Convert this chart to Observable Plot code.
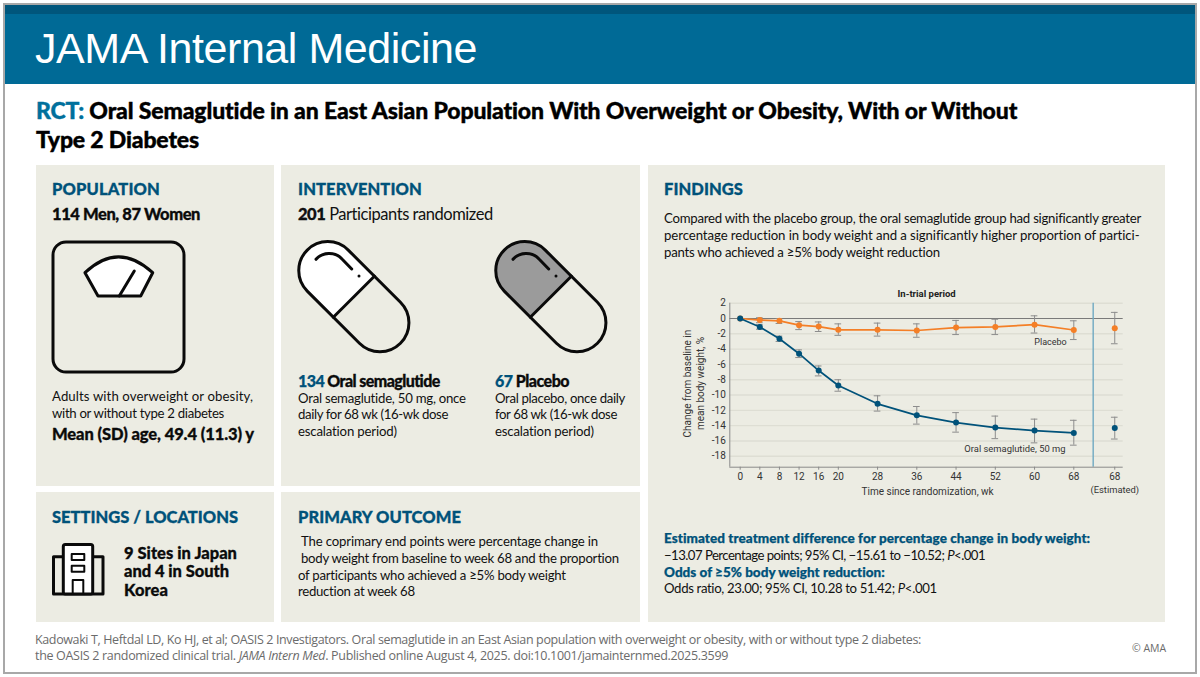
<!DOCTYPE html>
<html><head><meta charset="utf-8">
<script src="https://cdn.jsdelivr.net/npm/d3@7"></script>
<script src="https://cdn.jsdelivr.net/npm/@observablehq/plot@0.6"></script>
<style>
html,body{margin:0;padding:0;background:#fff;overflow:hidden}
#page{position:relative;width:1200px;height:677px;overflow:hidden;background:#fff;font-family:Lato,"Noto Sans",sans-serif;color:#111}
.box{position:absolute;background:#ecece3}
.l{position:absolute;white-space:pre;height:20px;line-height:20px;font-size:13.2px;display:inline-block}
.h{font-weight:900;font-size:16.5px;color:#00527a;-webkit-text-stroke:.3px #00527a}
.b{font-weight:900;font-size:16.5px;color:#0b0b0b;-webkit-text-stroke:.3px #0b0b0b}
.s{font-weight:900;font-size:16.5px;color:#0b0b0b;-webkit-text-stroke:.3px #0b0b0b}
.c{color:#00527a;font-weight:900;-webkit-text-stroke:.25px #00527a}
.t{font-size:23px;font-weight:900;-webkit-text-stroke:.4px #000;color:#000}
.f{font-family:"Open Sans",sans-serif;font-size:12.5px;color:#6b6b6b}
svg.icon{position:absolute;left:0;top:0}
#chart{position:absolute;left:660px;top:285px}
</style></head><body>
<div id="page">
<div class="box" style="left:4px;top:4px;width:1192px;height:10px;background:#00567c"></div>
<div class="box" style="left:4px;top:14px;width:1192px;height:70px;background:#006a96"></div>
<div style="position:absolute;left:3px;top:3px;width:1190px;height:667px;border:2px solid #a8a8a8"></div>
<div class="l" data-w="442" style="left:35px;top:28px;height:40px;line-height:40px;font-family:'Liberation Sans',sans-serif;font-size:43px;color:#fff">JAMA Internal Medicine</div>
<div class="l t" data-w="982" style="left:36px;top:100px"><span style="color:#00709c;-webkit-text-stroke:.4px #00709c">RCT:</span> Oral Semaglutide in an East Asian Population With Overweight or Obesity, With or Without</div>
<div class="l t" data-w="163" style="left:36px;top:129px">Type 2 Diabetes</div>

<div class="box" style="left:36px;top:165px;width:238px;height:321px"></div>
<div class="box" style="left:281px;top:165px;width:359px;height:321px"></div>
<div class="box" style="left:36px;top:492px;width:238px;height:130px"></div>
<div class="box" style="left:281px;top:492px;width:359px;height:130px"></div>
<div class="box" style="left:648px;top:165px;width:517px;height:457px"></div>

<svg class="icon" width="1200" height="677" fill="none" stroke="#0a0a0a" stroke-width="3" stroke-linejoin="round" stroke-linecap="round">
  <rect x="53" y="242" width="131" height="130" rx="13"/>
  <path d="M85 272.7 L98 296 H140.7 L152.7 272.7 Q118.3 241 85 272.7 Z" fill="#fff"/>
  <path d="M119.3 296 L134.3 271"/>
  <g transform="translate(353.85,296.7) rotate(45)">
    <path d="M0 -29 H-36.9 A29 29 0 0 0 -36.9 29 H0 Z" fill="#fff" stroke="none"/>
    <rect x="-65.9" y="-29" width="131.8" height="58" rx="29"/>
    <path d="M0 -29 V29"/>
  </g>
  <path d="M316 259.3 C322 252 335 251 342 259 L351.7 269"/>
  <circle cx="359" cy="276" r="1.5" fill="#0a0a0a" stroke="none"/>
  <g transform="translate(550.85,296.7) rotate(45)">
    <path d="M0 -29 H-36.9 A29 29 0 0 0 -36.9 29 H0 Z" fill="#9b9b9b" stroke="none"/>
    <rect x="-65.9" y="-29" width="131.8" height="58" rx="29"/>
    <path d="M0 -29 V29"/>
  </g>
  <path d="M513 259.3 C519 252 532 251 539 259 L548.7 269"/>
  <circle cx="556" cy="276" r="1.5" fill="#0a0a0a" stroke="none"/>
  <path d="M63.3 556.7 H53.5 V594 H103 V556.7 H92.7" />
  <rect x="63.3" y="544.5" width="29.4" height="49.5" rx="2" fill="#fff"/>
  <rect x="71.7" y="554" width="12.6" height="6" stroke-width="2"/>
  <rect x="71.7" y="565.7" width="12.6" height="6" stroke-width="2"/>
  <path d="M72.7 594 V580 H83.3 V594" stroke-width="2"/>
</svg>

<div class="l h" data-w="108" style="left:52px;top:179px">POPULATION</div>
<div class="l b" data-w="148" style="left:52px;top:204px">114 Men, 87 Women</div>
<div class="l" data-w="201" style="left:52px;top:386px">Adults with overweight or obesity,</div>
<div class="l" data-w="172" style="left:52px;top:403px">with or without type 2 diabetes</div>
<div class="l b" data-w="202" style="left:52px;top:424px">Mean (SD) age, 49.4 (11.3) y</div>

<div class="l h" data-w="124" style="left:298px;top:179px">INTERVENTION</div>
<div class="l" data-w="195" style="left:298px;top:204px;font-size:16.5px"><b style="font-weight:900;-webkit-text-stroke:.3px #0b0b0b">201</b> Participants randomized</div>
<div class="l b" data-w="142" style="left:298px;top:371px;font-size:16px"><span class="c">134</span> Oral semaglutide</div>
<div class="l" data-w="168" style="left:298px;top:388px">Oral semaglutide, 50 mg, once</div>
<div class="l" data-w="150" style="left:298px;top:404px">daily for 68 wk (16-wk dose</div>
<div class="l" data-w="99" style="left:298px;top:421px">escalation period)</div>
<div class="l b" data-w="74" style="left:495px;top:371px;font-size:16px"><span class="c">67</span> Placebo</div>
<div class="l" data-w="130" style="left:495px;top:388px">Oral placebo, once daily</div>
<div class="l" data-w="122" style="left:495px;top:404px">for 68 wk (16-wk dose</div>
<div class="l" data-w="99" style="left:495px;top:421px">escalation period)</div>

<div class="l h" data-w="186" style="left:52px;top:507px">SETTINGS / LOCATIONS</div>
<div class="l s" data-w="113" style="left:124px;top:543px">9 Sites in Japan</div>
<div class="l s" data-w="105" style="left:124px;top:561px">and 4 in South</div>
<div class="l s" data-w="44" style="left:124px;top:580px">Korea</div>

<div class="l h" data-w="163" style="left:298px;top:507px">PRIMARY OUTCOME</div>
<div class="l" data-w="297" style="left:301px;top:531px">The coprimary end points were percentage change in</div>
<div class="l" data-w="318" style="left:301px;top:548px">body weight from baseline to week 68 and the proportion</div>
<div class="l" data-w="268" style="left:298px;top:565px">of participants who achieved a ≥5% body weight</div>
<div class="l" data-w="117" style="left:298px;top:581px">reduction at week 68</div>

<div class="l h" data-w="79" style="left:664px;top:179px">FINDINGS</div>
<div class="l" data-w="477" style="left:664px;top:208px">Compared with the placebo group, the oral semaglutide group had significantly greater</div>
<div class="l" data-w="476" style="left:664px;top:225px">percentage reduction in body weight and a significantly higher proportion of partici-</div>
<div class="l" data-w="276" style="left:664px;top:242px">pants who achieved a ≥5% body weight reduction</div>

<div id="chart"></div>

<div class="l c" data-w="426" style="left:664px;top:528px;font-size:13.5px">Estimated treatment difference for percentage change in body weight:</div>
<div class="l" data-w="321" style="left:664px;top:545px">−13.07 Percentage points; 95% CI, −15.61 to −10.52; <i>P</i>&lt;.001</div>
<div class="l c" data-w="221" style="left:664px;top:562px;font-size:13.5px">Odds of ≥5% body weight reduction:</div>
<div class="l" data-w="273" style="left:664px;top:578px">Odds ratio, 23.00; 95% CI, 10.28 to 51.42; <i>P</i>&lt;.001</div>

<div class="l f" data-w="886" style="left:35px;top:630px">Kadowaki T, Heftdal LD, Ko HJ, et al; OASIS 2 Investigators. Oral semaglutide in an East Asian population with overweight or obesity, with or without type 2 diabetes:</div>
<div class="l f" data-w="693" style="left:35px;top:646px">the OASIS 2 randomized clinical trial. <i>JAMA Intern Med</i>. Published online August 4, 2025. doi:10.1001/jamainternmed.2025.3599</div>
<div class="l f" style="left:1132px;top:638px;font-size:10.5px">© AMA</div>
</div>

<script>
const weeks = [0, 4, 8, 12, 16, 20, 28, 36, 44, 52, 60, 68];
const semaMean = [0, -1.1, -2.65, -4.6, -6.8, -8.75, -11.15, -12.65, -13.6, -14.25, -14.65, -14.95];
const semaHigh = [null, -0.8, -2.3, -4.1, -6.2, -8.0, -10.1, -11.5, -12.3, -12.75, -13.15, -13.3];
const semaLow = [null, -1.4, -3.0, -5.1, -7.5, -9.5, -12.1, -13.8, -14.85, -15.7, -16.25, -16.55];
const placeboMean = [0, -0.2, -0.3, -0.87, -1.05, -1.48, -1.48, -1.57, -1.18, -1.1, -0.8, -1.5];
const placeboHigh = [null, 0.1, 0, -0.4, -0.45, -0.7, -0.6, -0.7, -0.25, -0.1, 0.35, -0.3];
const placeboLow = [null, -0.55, -0.65, -1.45, -1.7, -2.2, -2.3, -2.45, -2.1, -2.1, -1.9, -2.75];
const estimatedSema = {mean: -14.3, high: -12.9, low: -15.75};
const estimatedPlacebo = {mean: -1.27, high: 0.8, low: -3.3};
const yTicks = [2, 0, -2, -4, -6, -8, -10, -12, -14, -16, -18];
const estimatedPos = 76.35;
const dividerPos = 71.95;
const navy = "#00527a", orange = "#f47f27", errColor = "#8c8c8c";

const rows = (m, h, l) => weeks.map((w, i) => ({x: w, mean: m[i], high: h[i], low: l[i]}));
const sema = rows(semaMean, semaHigh, semaLow);
const placebo = rows(placeboMean, placeboHigh, placeboLow);
const est = (e) => ({x: estimatedPos, mean: e.mean, high: e.high, low: e.low});
const withEst = (a, e) => a.filter(d => d.high != null).concat(est(e));
const capW = 0.68;
const errs = (a) => [
  Plot.ruleX(a, {x: "x", y1: "low", y2: "high", stroke: errColor, strokeWidth: 1}),
  Plot.ruleY(a, {y: "high", x1: d => d.x - capW, x2: d => d.x + capW, stroke: errColor, strokeWidth: 1}),
  Plot.ruleY(a, {y: "low", x1: d => d.x - capW, x2: d => d.x + capW, stroke: errColor, strokeWidth: 1})
];
const font = "'Liberation Sans Narrow','Roboto',sans-serif";
const series = (a, e, color) => [
  ...errs(withEst(a, e)),
  Plot.line(a, {x: "x", y: "mean", stroke: color, strokeWidth: 1.7}),
  Plot.dot(a.concat(est(e)), {x: "x", y: "mean", r: 3, fill: color, stroke: "none"})
];
const chart = Plot.plot({
  width: 480, height: 225,
  marginLeft: 69.3, marginRight: 17.3, marginTop: 17.7, marginBottom: 43.3,
  style: {background: "transparent", fontFamily: font, fontSize: "10px", color: "#333", overflow: "visible"},
  x: {domain: [-2.12, 78.07], axis: null},
  y: {domain: [-19.43, 2], axis: null},
  marks: [
    Plot.ruleY(yTicks.filter(d => d !== 0), {stroke: "#deded4", strokeWidth: 1.4}),
    Plot.ruleY([0], {stroke: "#7a7a7a", strokeWidth: 1}),
    Plot.ruleX([dividerPos], {stroke: "#6fa9c2", strokeWidth: 1.4}),
    Plot.ruleX([-2.12], {stroke: "#8a8a8a", strokeWidth: 1}),
    Plot.ruleY([-19.43], {stroke: "#8a8a8a", strokeWidth: 1}),
    Plot.axisY({ticks: yTicks, tickSize: 0, tickPadding: 4, tickFormat: d => String(d), fontSize: 10, fill: "#333", anchor: "left", label: null}),
    Plot.axisX({ticks: weeks.concat(estimatedPos), tickSize: 3, tickPadding: 3, stroke: "#8a8a8a", fill: "#333", fontSize: 10, anchor: "bottom", label: null,
      tickFormat: d => d === estimatedPos ? "68" : String(d)}),
    ...series(placebo, estimatedPlacebo, orange),
    ...series(sema, estimatedSema, navy),
    Plot.text(["Placebo"], {x: 63.25, y: -3.1, fontSize: 9, fill: "#333"}),
    Plot.text(["Oral semaglutide, 50 mg"], {x: 56.0, y: -17, fontSize: 9.4, fill: "#333"}),
    Plot.text(["In-trial period"], {x: 38, y: 3.2, fontSize: 9.5, fontWeight: 700, fill: "#222"}),
    Plot.text(["Time since randomization, wk"], {x: 38.2, y: -22.65, fontSize: 10, fill: "#333"}),
    Plot.text(["(Estimated)"], {x: estimatedPos, y: -22.4, fontSize: 9.4, fill: "#333"}),
    Plot.text(["Change from baseline in"], {x: -10.7, y: -8.5, rotate: -90, fontSize: 10, fill: "#333"}),
    Plot.text(["mean body weight, %"], {x: -8.1, y: -8.5, rotate: -90, fontSize: 10, fill: "#333"})
  ]
});
document.getElementById("chart").append(chart);

document.querySelectorAll(".l[data-w]").forEach(el => {
  const w = el.getBoundingClientRect().width;
  const n = el.textContent.length;
  el.style.letterSpacing = ((+el.dataset.w - w) / n).toFixed(3) + "px";
});
</script>
</body></html>
